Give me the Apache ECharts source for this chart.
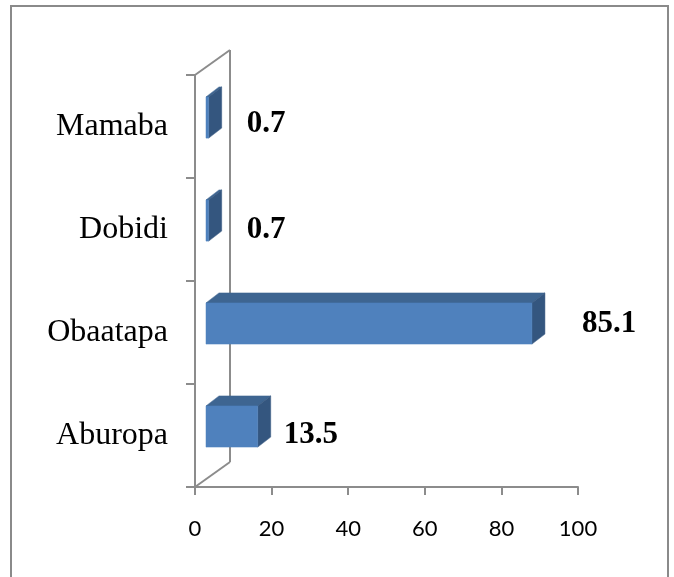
<!DOCTYPE html>
<html>
<head>
<meta charset="utf-8">
<script src="https://cdn.jsdelivr.net/npm/echarts@6/dist/echarts.min.js"></script>
<style>
  html, body { margin: 0; padding: 0; background: #ffffff; }
  #chart { width: 674px; height: 577px; }
</style>
</head>
<body>
<div id="chart"></div>
<script>
// Categories listed bottom to top
const categories = ['Aburopa', 'Obaatapa', 'Dobidi', 'Mamaba'];
const values = [13.5, 85.1, 0.7, 0.7];
const xTicks = [0, 20, 40, 60, 80, 100];

// Label placement tweaks (pixels right of the bar's side face, vertical shift)
const labelNudge = {
  Aburopa: [13, -1],
  Obaatapa: [37, -9],
  Dobidi: [25, 0],
  Mamaba: [25, -3]
};

// Oblique depth of the plot box and of the bars inside it
const WALL_DEPTH = [35, -25];
const BAR_FRONT = [11, -9];
const BAR_BACK = [24, -19];

const AXIS_GRAY = '#8c8c8c';
const FACE = '#4f81bd';
const TOP = '#3e6591';
const SIDE = '#34567f';

const chart = echarts.init(document.getElementById('chart'), null, { renderer: 'canvas' });

function renderWall(params, api) {
  const band = api.size([0, 1])[1];
  const bottom = api.coord([0, 0]);
  const top = api.coord([0, categories.length - 1]);
  const x = bottom[0];
  const yB = bottom[1] + band / 2;
  const yT = top[1] - band / 2;
  const bx = x + WALL_DEPTH[0];
  const st = { stroke: AXIS_GRAY, lineWidth: 2, fill: null };
  return {
    type: 'group',
    children: [
      { type: 'line', shape: { x1: x, y1: yT, x2: bx, y2: yT + WALL_DEPTH[1] }, style: st },
      { type: 'line', shape: { x1: x, y1: yB, x2: bx, y2: yB + WALL_DEPTH[1] }, style: st },
      { type: 'line', shape: { x1: bx, y1: yT + WALL_DEPTH[1], x2: bx, y2: yB + WALL_DEPTH[1] }, style: st }
    ]
  };
}

function renderBar(params, api) {
  const v = api.value(0);
  const idx = api.value(1);
  const start = api.coord([0, idx]);
  const end = api.coord([v, idx]);
  const band = api.size([0, 1])[1];
  const h = band * 0.2;
  const x0 = start[0] + BAR_FRONT[0];
  const x1 = end[0] + BAR_FRONT[0];
  const yT = start[1] - h + BAR_FRONT[1];
  const yB = start[1] + h + BAR_FRONT[1];
  const dx = BAR_BACK[0] - BAR_FRONT[0];
  const dy = BAR_BACK[1] - BAR_FRONT[1];
  const nudge = labelNudge[categories[idx]] || [24, 0];
  return {
    type: 'group',
    children: [
      { type: 'polygon', shape: { points: [[x0, yT], [x0 + dx, yT + dy], [x1 + dx, yT + dy], [x1, yT]] },
        style: { fill: TOP, stroke: TOP, lineWidth: 0.5 } },
      { type: 'polygon', shape: { points: [[x1, yT], [x1 + dx, yT + dy], [x1 + dx, yB + dy], [x1, yB]] },
        style: { fill: SIDE, stroke: SIDE, lineWidth: 0.5 } },
      { type: 'rect', shape: { x: x0, y: yT, width: Math.max(x1 - x0, 0.5), height: yB - yT },
        style: { fill: FACE, stroke: FACE, lineWidth: 0.5 } },
      { type: 'text', x: x1 + dx + nudge[0], y: start[1] + nudge[1],
        style: { text: String(v), fill: '#000', font: 'bold 31px "Liberation Serif", "Times New Roman", serif',
                 textAlign: 'left', textVerticalAlign: 'middle', verticalAlign: 'middle' } }
    ]
  };
}

const option = {
  animation: false,
  backgroundColor: '#ffffff',
  graphic: [{
    type: 'rect',
    shape: { x: 11, y: 6, width: 657, height: 640 },
    style: { fill: null, stroke: '#8a8a8a', lineWidth: 2 },
    silent: true
  }],
  grid: { left: 195, right: 96, top: 75, bottom: 90, containLabel: false },
  xAxis: {
    type: 'value',
    min: xTicks[0],
    max: xTicks[xTicks.length - 1],
    interval: xTicks[1] - xTicks[0],
    axisLine: { show: true, lineStyle: { color: AXIS_GRAY, width: 2 } },
    axisTick: { show: true, length: 8, lineStyle: { color: AXIS_GRAY, width: 2 } },
    splitLine: { show: false },
    axisLabel: {
      margin: 31,
      color: '#000',
      fontSize: 22,
      fontFamily: 'Lato, sans-serif'
    }
  },
  yAxis: {
    type: 'category',
    data: categories,
    axisLine: { show: true, lineStyle: { color: AXIS_GRAY, width: 2 } },
    axisTick: { show: true, length: 9, lineStyle: { color: AXIS_GRAY, width: 2 } },
    axisLabel: {
      margin: 27,
      color: '#000',
      fontSize: 32,
      fontFamily: '"Liberation Serif", "Times New Roman", serif'
    }
  },
  series: [
    {
      type: 'custom',
      renderItem: renderWall,
      data: [[0, 0]],
      encode: { x: 0, y: 1 },
      z: 1,
      silent: true
    },
    {
      type: 'custom',
      renderItem: renderBar,
      data: values.map((v, i) => [v, i]),
      encode: { x: 0, y: 1 },
      z: 3
    }
  ]
};

chart.setOption(option);
</script>
</body>
</html>
